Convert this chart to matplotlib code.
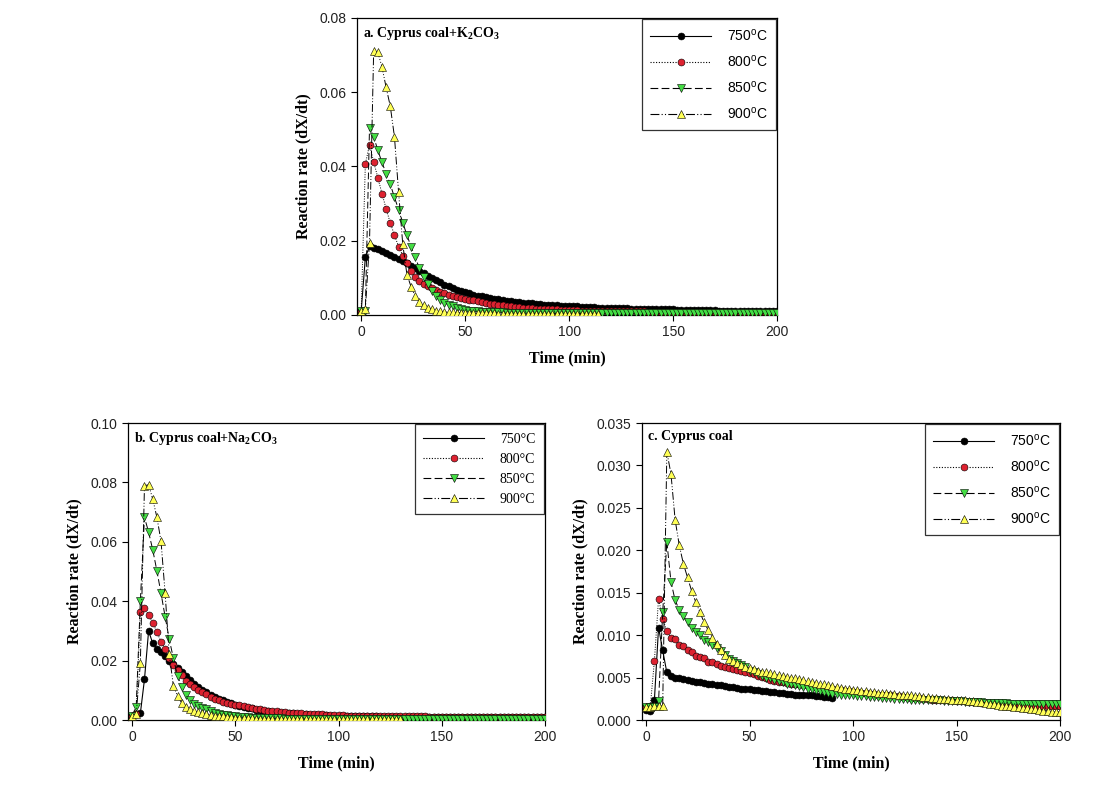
import numpy as np
import matplotlib
matplotlib.use("Agg")
import matplotlib.pyplot as plt
from matplotlib.lines import Line2D

minutes = np.arange(0, 201, 2)
temps = ["750", "800", "850", "900"]

# ---- a. Cyprus coal + K2CO3 ----
a750 = [0.0010, 0.0155, 0.0185, 0.0181, 0.0177, 0.0172, 0.0167, 0.0162, 0.0157, 0.0152,
        0.0146, 0.0140, 0.0133, 0.0126, 0.0119, 0.0112, 0.0106, 0.0100, 0.0094, 0.0088,
        0.0082, 0.0077, 0.0072, 0.0068, 0.0064, 0.0061, 0.0058, 0.0055, 0.0052, 0.0050,
        0.0048, 0.0046, 0.0044, 0.0042, 0.0040, 0.0038, 0.0037, 0.0035, 0.0034, 0.0033,
        0.0032, 0.0031, 0.0030, 0.0029, 0.0028, 0.0027, 0.0027, 0.0026, 0.0025, 0.0025,
        0.0024, 0.0023, 0.0023, 0.0022, 0.0022, 0.0021, 0.0021, 0.0020, 0.0020, 0.0019,
        0.0019, 0.0019, 0.0018, 0.0018, 0.0018, 0.0017, 0.0017, 0.0017, 0.0016, 0.0016,
        0.0016, 0.0016, 0.0015, 0.0015, 0.0015, 0.0015, 0.0014, 0.0014, 0.0014, 0.0014,
        0.0014, 0.0013, 0.0013, 0.0013, 0.0013, 0.0013, 0.0012, 0.0012, 0.0012, 0.0012,
        0.0012, 0.0012, 0.0011, 0.0011, 0.0011, 0.0011, 0.0011, 0.0011, 0.0010, 0.0010,
        0.0010]
a800 = [0.0010, 0.0406, 0.0459, 0.0413, 0.0370, 0.0327, 0.0286, 0.0248, 0.0215, 0.0184,
        0.0160, 0.0139, 0.0119, 0.0103, 0.0092, 0.0084, 0.0078, 0.0073, 0.0068, 0.0063,
        0.0058, 0.0055, 0.0052, 0.0049, 0.0046, 0.0043, 0.0041, 0.0039, 0.0037, 0.0035,
        0.0032, 0.0030, 0.0029, 0.0027, 0.0026, 0.0024, 0.0023, 0.0022, 0.0021, 0.0020,
        0.0019, 0.0018, 0.0017, 0.0017, 0.0016, 0.0016, 0.0015, 0.0015, 0.0014, 0.0014,
        0.0013, 0.0013, 0.0013, 0.0012, 0.0012, 0.0012, 0.0012, 0.0011, 0.0011, 0.0011,
        0.0011, 0.0011, 0.0010, 0.0010, 0.0010, 0.0010, 0.0010, 0.0010, 0.0010, 0.0009,
        0.0009, 0.0009, 0.0009, 0.0009, 0.0009, 0.0009, 0.0009, 0.0009, 0.0009, 0.0009,
        0.0009, 0.0009, 0.0008, 0.0008, 0.0008, 0.0008, 0.0008, 0.0008, 0.0008, 0.0008,
        0.0008, 0.0008, 0.0008, 0.0008, 0.0008, 0.0007, 0.0007, 0.0007, 0.0007, 0.0007,
        0.0007]
a850 = [0.0010, 0.0010, 0.0504, 0.0480, 0.0444, 0.0411, 0.0381, 0.0352, 0.0317, 0.0284,
        0.0249, 0.0215, 0.0184, 0.0155, 0.0126, 0.0103, 0.0083, 0.0065, 0.0050, 0.0040,
        0.0033, 0.0028, 0.0024, 0.0020, 0.0017, 0.0013, 0.0012, 0.0011, 0.0010, 0.0009,
        0.0008, 0.0008, 0.0007, 0.0007, 0.0007, 0.0006, 0.0006, 0.0006, 0.0006, 0.0006,
        0.0005, 0.0005, 0.0005, 0.0005, 0.0005, 0.0005, 0.0005, 0.0005, 0.0005, 0.0005,
        0.0005, 0.0005, 0.0005, 0.0005, 0.0005, 0.0005, 0.0005, 0.0005, 0.0005, 0.0005,
        0.0005, 0.0005, 0.0005, 0.0005, 0.0005, 0.0005, 0.0005, 0.0005, 0.0005, 0.0005,
        0.0005, 0.0005, 0.0005, 0.0005, 0.0005, 0.0005, 0.0005, 0.0005, 0.0005, 0.0005,
        0.0005, 0.0005, 0.0005, 0.0005, 0.0005, 0.0005, 0.0005, 0.0005, 0.0005, 0.0005,
        0.0005, 0.0005, 0.0005, 0.0005, 0.0005, 0.0005, 0.0005, 0.0005, 0.0005, 0.0005,
        0.0005]
a900 = [0.0010, 0.0015, 0.0195, 0.0710, 0.0708, 0.0668, 0.0613, 0.0562, 0.0480, 0.0330,
        0.0190, 0.0109, 0.0076, 0.0051, 0.0036, 0.0027, 0.0020, 0.0015, 0.0012, 0.0010,
        0.0008, 0.0007, 0.0007, 0.0006, 0.0006, 0.0005, 0.0005, 0.0005, 0.0004, 0.0004,
        0.0004, 0.0004, 0.0004, 0.0003, 0.0003, 0.0003, 0.0003, 0.0003, 0.0003, 0.0003,
        0.0003, 0.0003, 0.0003, 0.0003, 0.0003, 0.0003, 0.0003, 0.0003, 0.0003, 0.0003,
        0.0003, 0.0003, 0.0003, 0.0003, 0.0003, 0.0003, 0.0003, 0.0003]

# ---- b. Cyprus coal + Na2CO3 ----
b750 = [0.0015, 0.0020, 0.0022, 0.0137, 0.0300, 0.0258, 0.0240, 0.0228, 0.0215, 0.0200,
        0.0188, 0.0175, 0.0160, 0.0147, 0.0135, 0.0122, 0.0112, 0.0102, 0.0093, 0.0085,
        0.0078, 0.0072, 0.0066, 0.0061, 0.0056, 0.0052, 0.0048, 0.0045, 0.0042, 0.0039,
        0.0035, 0.0033, 0.0031, 0.0029, 0.0028, 0.0026, 0.0025, 0.0024, 0.0023, 0.0022,
        0.0021, 0.0020, 0.0019, 0.0018, 0.0017, 0.0017, 0.0016, 0.0016, 0.0015, 0.0015,
        0.0014, 0.0014, 0.0014, 0.0013, 0.0013, 0.0013, 0.0012, 0.0012, 0.0012, 0.0012,
        0.0011, 0.0011, 0.0011, 0.0011, 0.0011, 0.0011, 0.0011, 0.0011, 0.0011, 0.0011,
        0.0011, 0.0011, 0.0010, 0.0010, 0.0010, 0.0010, 0.0010, 0.0010, 0.0010, 0.0010,
        0.0010, 0.0010, 0.0010, 0.0010, 0.0010, 0.0010, 0.0010, 0.0010, 0.0010, 0.0010,
        0.0009, 0.0009, 0.0009, 0.0009, 0.0009, 0.0009, 0.0009, 0.0009, 0.0009, 0.0009,
        0.0009]
b800 = [0.0015, 0.0020, 0.0362, 0.0376, 0.0354, 0.0328, 0.0296, 0.0264, 0.0238, 0.0208,
        0.0185, 0.0167, 0.0150, 0.0133, 0.0120, 0.0110, 0.0101, 0.0093, 0.0086, 0.0079,
        0.0072, 0.0067, 0.0062, 0.0058, 0.0055, 0.0052, 0.0049, 0.0046, 0.0043, 0.0040,
        0.0038, 0.0036, 0.0034, 0.0032, 0.0031, 0.0029, 0.0028, 0.0027, 0.0025, 0.0024,
        0.0023, 0.0022, 0.0021, 0.0021, 0.0020, 0.0019, 0.0019, 0.0018, 0.0018, 0.0017,
        0.0016, 0.0016, 0.0015, 0.0015, 0.0015, 0.0014, 0.0014, 0.0014, 0.0013, 0.0013,
        0.0013, 0.0013, 0.0012, 0.0012, 0.0012, 0.0012, 0.0012, 0.0012, 0.0012, 0.0012,
        0.0012, 0.0012, 0.0011, 0.0011, 0.0011, 0.0011, 0.0011, 0.0011, 0.0011, 0.0011,
        0.0011, 0.0011, 0.0011, 0.0011, 0.0010, 0.0010, 0.0010, 0.0010, 0.0010, 0.0010,
        0.0010, 0.0010, 0.0010, 0.0010, 0.0009, 0.0009, 0.0009, 0.0009, 0.0009, 0.0009,
        0.0009]
b850 = [0.0015, 0.0045, 0.0400, 0.0682, 0.0633, 0.0573, 0.0503, 0.0427, 0.0348, 0.0272,
        0.0208, 0.0149, 0.0112, 0.0084, 0.0067, 0.0053, 0.0046, 0.0041, 0.0037, 0.0031,
        0.0025, 0.0021, 0.0018, 0.0016, 0.0014, 0.0012, 0.0011, 0.0010, 0.0009, 0.0008,
        0.0007, 0.0007, 0.0007, 0.0006, 0.0006, 0.0006, 0.0006, 0.0005, 0.0005, 0.0005,
        0.0005, 0.0005, 0.0005, 0.0005, 0.0005, 0.0005, 0.0005, 0.0005, 0.0005, 0.0005,
        0.0005, 0.0005, 0.0005, 0.0005, 0.0005, 0.0005, 0.0005, 0.0005, 0.0005, 0.0005,
        0.0004, 0.0004, 0.0004, 0.0004, 0.0004, 0.0004, 0.0004, 0.0004, 0.0004, 0.0004,
        0.0004, 0.0004, 0.0004, 0.0004, 0.0004, 0.0004, 0.0004, 0.0004, 0.0004, 0.0004,
        0.0004, 0.0004, 0.0004, 0.0004, 0.0004, 0.0004, 0.0004, 0.0004, 0.0004, 0.0004,
        0.0004, 0.0004, 0.0004, 0.0004, 0.0004, 0.0004, 0.0004, 0.0004, 0.0004, 0.0004,
        0.0004]
b900 = [0.0015, 0.0020, 0.0191, 0.0789, 0.0792, 0.0744, 0.0683, 0.0603, 0.0427, 0.0221,
        0.0115, 0.0081, 0.0058, 0.0045, 0.0037, 0.0030, 0.0027, 0.0024, 0.0021, 0.0018,
        0.0015, 0.0013, 0.0012, 0.0010, 0.0009, 0.0008, 0.0008, 0.0007, 0.0007, 0.0006,
        0.0005, 0.0005, 0.0005, 0.0005, 0.0005, 0.0004, 0.0004, 0.0004, 0.0004, 0.0004,
        0.0004, 0.0004, 0.0004, 0.0004, 0.0004, 0.0003, 0.0003, 0.0003, 0.0003, 0.0003,
        0.0003, 0.0003, 0.0003, 0.0003, 0.0003, 0.0003, 0.0003, 0.0003, 0.0003, 0.0003,
        0.0003, 0.0003, 0.0003, 0.0003, 0.0003, 0.0003]

# ---- c. Cyprus coal ----
c750 = [0.0012, 0.0011, 0.0024, 0.0109, 0.0082, 0.0056, 0.0052, 0.0050, 0.0049, 0.0048,
        0.0047, 0.0046, 0.0045, 0.0045, 0.0044, 0.0042, 0.0042, 0.0041, 0.0041, 0.0040,
        0.0039, 0.0039, 0.0038, 0.0037, 0.0037, 0.0036, 0.0035, 0.0035, 0.0034, 0.0034,
        0.0033, 0.0033, 0.0032, 0.0032, 0.0031, 0.0031, 0.0030, 0.0030, 0.0030, 0.0029,
        0.0029, 0.0028, 0.0028, 0.0027, 0.0027, 0.0026]
c800 = [0.0015, 0.0016, 0.0070, 0.0143, 0.0119, 0.0105, 0.0097, 0.0095, 0.0088, 0.0087,
        0.0082, 0.0080, 0.0076, 0.0074, 0.0073, 0.0068, 0.0068, 0.0066, 0.0064, 0.0062,
        0.0061, 0.0060, 0.0059, 0.0058, 0.0057, 0.0055, 0.0054, 0.0052, 0.0051, 0.0049,
        0.0047, 0.0046, 0.0045, 0.0045, 0.0044, 0.0043, 0.0043, 0.0042, 0.0041, 0.0041,
        0.0040, 0.0039, 0.0038, 0.0037, 0.0037, 0.0036, 0.0035, 0.0035, 0.0034, 0.0034,
        0.0033, 0.0033, 0.0032, 0.0032, 0.0031, 0.0031, 0.0030, 0.0030, 0.0029, 0.0029,
        0.0028, 0.0028, 0.0027, 0.0027, 0.0026, 0.0026, 0.0026, 0.0025, 0.0025, 0.0024,
        0.0024, 0.0024, 0.0023, 0.0023, 0.0023, 0.0022, 0.0022, 0.0022, 0.0021, 0.0021,
        0.0021, 0.0020, 0.0020, 0.0020, 0.0020, 0.0019, 0.0019, 0.0019, 0.0018, 0.0018,
        0.0018, 0.0018, 0.0017, 0.0017, 0.0017, 0.0017, 0.0016, 0.0016, 0.0016, 0.0016,
        0.0016]
c850 = [0.0015, 0.0015, 0.0015, 0.0022, 0.0127, 0.0210, 0.0163, 0.0141, 0.0130, 0.0122,
        0.0115, 0.0109, 0.0104, 0.0100, 0.0094, 0.0092, 0.0088, 0.0085, 0.0081, 0.0077,
        0.0072, 0.0070, 0.0067, 0.0065, 0.0062, 0.0058, 0.0056, 0.0054, 0.0052, 0.0050,
        0.0049, 0.0047, 0.0046, 0.0045, 0.0043, 0.0042, 0.0041, 0.0040, 0.0039, 0.0037,
        0.0036, 0.0035, 0.0034, 0.0033, 0.0032, 0.0031, 0.0031, 0.0030, 0.0030, 0.0029,
        0.0029, 0.0028, 0.0028, 0.0028, 0.0027, 0.0027, 0.0027, 0.0026, 0.0026, 0.0026,
        0.0025, 0.0025, 0.0025, 0.0025, 0.0024, 0.0024, 0.0024, 0.0024, 0.0023, 0.0023,
        0.0023, 0.0023, 0.0022, 0.0022, 0.0022, 0.0022, 0.0022, 0.0021, 0.0021, 0.0021,
        0.0021, 0.0021, 0.0020, 0.0020, 0.0020, 0.0020, 0.0020, 0.0020, 0.0019, 0.0019,
        0.0019, 0.0019, 0.0019, 0.0019, 0.0019, 0.0019, 0.0019, 0.0019, 0.0019, 0.0019,
        0.0019]
c900 = [0.0015, 0.0015, 0.0016, 0.0017, 0.0017, 0.0316, 0.0290, 0.0236, 0.0206, 0.0184,
        0.0168, 0.0152, 0.0139, 0.0127, 0.0115, 0.0106, 0.0097, 0.0089, 0.0082, 0.0077,
        0.0072, 0.0069, 0.0067, 0.0065, 0.0063, 0.0061, 0.0060, 0.0058, 0.0057, 0.0056,
        0.0055, 0.0054, 0.0053, 0.0052, 0.0051, 0.0050, 0.0049, 0.0048, 0.0047, 0.0046,
        0.0045, 0.0044, 0.0043, 0.0042, 0.0041, 0.0040, 0.0039, 0.0038, 0.0037, 0.0036,
        0.0035, 0.0035, 0.0034, 0.0034, 0.0033, 0.0033, 0.0032, 0.0032, 0.0032, 0.0031,
        0.0031, 0.0030, 0.0030, 0.0029, 0.0029, 0.0028, 0.0028, 0.0027, 0.0027, 0.0026,
        0.0026, 0.0025, 0.0025, 0.0025, 0.0024, 0.0024, 0.0023, 0.0023, 0.0022, 0.0022,
        0.0021, 0.0021, 0.0020, 0.0019, 0.0019, 0.0018, 0.0017, 0.0017, 0.0016, 0.0015,
        0.0015, 0.0014, 0.0014, 0.0013, 0.0013, 0.0012, 0.0011, 0.0011, 0.0010, 0.0010,
        0.0009]

# styles per temperature
face = ["black", "#dd2230", "#44dd44", "#ffff55"]
mark = ["o", "o", "v", "^"]
msz = [5.0, 5.0, 6.0, 6.0]
dash = ["-", (0, (1, 1.5)), (0, (7, 3)), (0, (8, 2, 1, 2, 1, 2))]

SERIF = "Liberation Serif"
SANS = "Liberation Sans"

fig = plt.figure(figsize=(11.05, 7.92), dpi=100)

panels = [
    dict(rect=[0.3231, 0.6023, 0.3801, 0.375], data=[a750, a800, a850, a900],
         ymax=0.08, yticks=[0, 0.02, 0.04, 0.06, 0.08], fmt="%.2f",
         title=r"a. Cyprus coal+K$_\mathregular{2}$CO$_\mathregular{3}$",
         legfont=SANS, sup=True, lspace=0.72),
    dict(rect=[0.1158, 0.0909, 0.3774, 0.375], data=[b750, b800, b850, b900],
         ymax=0.10, yticks=[0, 0.02, 0.04, 0.06, 0.08, 0.10], fmt="%.2f",
         title=r"b. Cyprus coal+Na$_\mathregular{2}$CO$_\mathregular{3}$",
         legfont=SERIF, sup=False, lspace=0.5),
    dict(rect=[0.5810, 0.0909, 0.3783, 0.375], data=[c750, c800, c850, c900],
         ymax=0.035, yticks=[0, 0.005, 0.01, 0.015, 0.02, 0.025, 0.03, 0.035], fmt="%.3f",
         title="c. Cyprus coal",
         legfont=SANS, sup=True, lspace=0.72),
]

for p in panels:
    ax = fig.add_axes(p["rect"])
    handles = []
    for i, vals in enumerate(p["data"]):
        ax.plot(minutes[:len(vals)], vals, color="black", lw=0.8 if i == 0 else 0.7,
                linestyle=dash[i], marker=mark[i], ms=msz[i], mfc=face[i],
                mec="black", mew=0.4, zorder=2 + i)
        if p["sup"]:
            lab = temps[i] + r"$^\mathregular{o}$C"
        else:
            lab = temps[i] + "°C"
        handles.append(Line2D([], [], color="black", lw=0.8, linestyle=dash[i],
                              marker=mark[i], ms=msz[i], mfc=face[i],
                              mec="black", mew=0.4, label=lab))
    ax.set_xlim(-2, 200)
    ax.set_ylim(0, p["ymax"])
    ax.set_xticks([0, 50, 100, 150, 200])
    ax.set_yticks(p["yticks"])
    ax.set_yticklabels([p["fmt"] % v for v in p["yticks"]])
    ax.tick_params(direction="out", length=4, width=0.8, labelsize=10,
                   labelcolor="#222222", top=False, right=False)
    for lbl in ax.get_xticklabels() + ax.get_yticklabels():
        lbl.set_family(SANS)
    for s in ax.spines.values():
        s.set_linewidth(0.9)
    ax.set_xlabel("Time (min)", family=SERIF, fontweight="bold", fontsize=11.5, labelpad=8)
    ax.set_ylabel("Reaction rate (dX/dt)", family=SERIF, fontweight="bold",
                  fontsize=11.5, labelpad=6)
    ax.text(0.015, 0.975, p["title"], transform=ax.transAxes, ha="left", va="top",
            family=SERIF, fontweight="bold", fontsize=10, zorder=10)
    leg = ax.legend(handles=handles, loc="upper right",
                    prop={"family": p["legfont"], "size": 10},
                    frameon=True, fancybox=False, edgecolor="black",
                    handlelength=4.4, handletextpad=1.1, labelspacing=p["lspace"],
                    borderpad=0.6, borderaxespad=0.1, markerfirst=True)
    leg.get_frame().set_linewidth(0.9)
    leg.set_zorder(20)

fig.savefig("out.png", dpi=100)
